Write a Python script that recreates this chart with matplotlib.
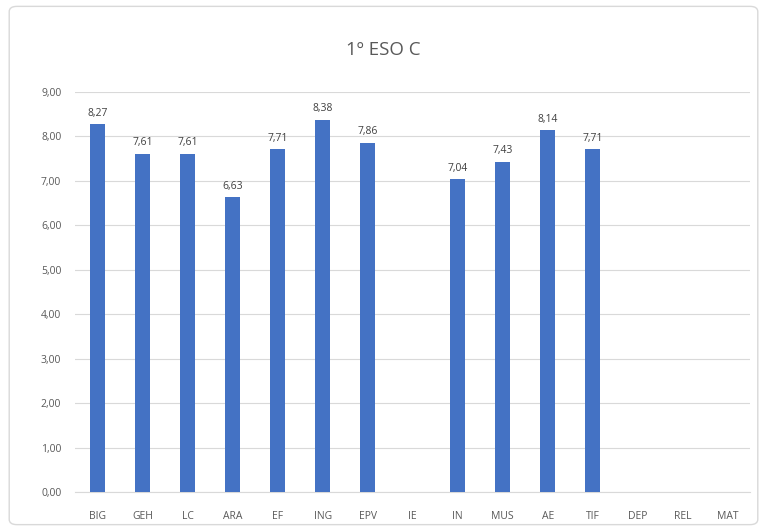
import matplotlib
matplotlib.use("Agg")
import matplotlib.pyplot as plt
import numpy as np
from matplotlib.patches import FancyBboxPatch

categories = ["BIG", "GEH", "LC", "ARA", "EF", "ING", "EPV", "IE", "IN", "MUS", "AE", "TIF", "DEP", "REL", "MAT"]
values = [8.27, 7.61, 7.61, 6.63, 7.71, 8.38, 7.86, np.nan, 7.04, 7.43, 8.14, 7.71, np.nan, np.nan, np.nan]
yticks = [0, 1, 2, 3, 4, 5, 6, 7, 8, 9]
title = "1º ESO C"

plt.rcParams['font.family'] = ['Open Sans', 'DejaVu Sans']
fig = plt.figure(figsize=(7.67, 5.31), dpi=100)
ax = fig.add_axes([0.098, 0.0734, 0.88, 0.7533])

x = np.arange(len(categories))
vals = np.array(values, dtype=float)
ax.bar(x, np.nan_to_num(vals), width=0.32, color="#4472C4", zorder=3)
for xi, v in zip(x, vals):
    if not np.isnan(v):
        ax.text(xi, v + 0.12, f"{v:.2f}".replace(".", ","), ha="center", va="bottom",
                fontsize=7.5, color="#404040", zorder=4)

ax.set_xlim(-0.5, len(categories) - 0.5)
ax.set_ylim(0, 9)
ax.set_yticks(yticks)
ax.set_yticklabels([f"{t:.2f}".replace(".", ",") for t in yticks], fontsize=7.5, color="#595959")
ax.set_xticks(x)
ax.set_xticklabels(categories, fontsize=7.5, color="#595959")
ax.tick_params(axis="y", length=0, pad=10)
ax.tick_params(axis="x", length=0, pad=14)
ax.grid(axis="y", color="#D9D9D9", linewidth=0.8, zorder=0)
for s in ["top", "right", "left"]:
    ax.spines[s].set_visible(False)
ax.spines["bottom"].set_color("#D9D9D9")

fig.text(0.5, 0.905, title, ha="center", va="center", fontsize=13.5, color="#595959")

border = FancyBboxPatch((0.012, 0.012), 0.976, 0.976, boxstyle="round,pad=0,rounding_size=0.01",
                        transform=fig.transFigure, fill=False, edgecolor="#D9D9D9", linewidth=1)
fig.patches.append(border)

fig.savefig("out.png", dpi=100)
